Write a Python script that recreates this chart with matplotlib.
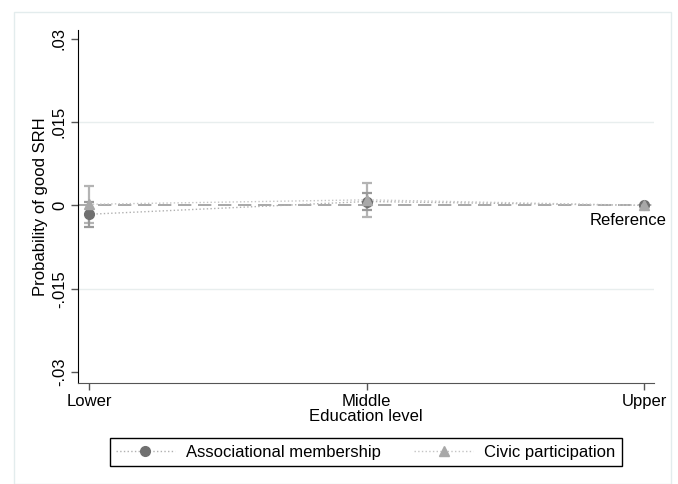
import matplotlib.pyplot as plt
from matplotlib.patches import Rectangle

plt.rcParams['font.family'] = ['Liberation Sans', 'DejaVu Sans']

levels = ['Lower', 'Middle', 'Upper']
assoc = [-0.0016, 0.0007, 0.0]
assoc_err = [0.0023, 0.0016, 0.0]
civic = [0.0002, 0.0010, 0.0]
civic_err = [0.0033, 0.0031, 0.0]
yticks = [-0.03, -0.015, 0, 0.015, 0.03]
yticklabels = ['-.03', '-.015', '0', '.015', '.03']

fig = plt.figure(figsize=(6.78, 4.84), dpi=100)
fig.patches.append(Rectangle((14 / 678, 0), 657 / 678, 1 - 12 / 484,
                             transform=fig.transFigure, fill=False,
                             edgecolor='#e3eced', lw=1))
ax = fig.add_axes([78 / 678, 1 - 383 / 484, 576 / 678, 353 / 484])

x = list(range(len(levels)))

for v in [-0.015, 0.015]:
    ax.axhline(v, color='#e8eeee', lw=1, zorder=0)
ax.axhline(0, color='#9a9a9a', lw=1.2, ls=(0, (8, 4)), zorder=1)

# error bars only where a CI exists (Upper is the reference)
ax.errorbar(x[:2], civic[:2], yerr=civic_err[:2], fmt='none', ecolor='#b4b4b4',
            elinewidth=1.6, capsize=3.5, capthick=1.6, zorder=2)
ax.errorbar(x[:2], assoc[:2], yerr=assoc_err[:2], fmt='none', ecolor='#9a9a9a',
            elinewidth=1.6, capsize=3.5, capthick=1.6, zorder=2)

ax.plot(x, assoc, color='#b0b0b0', ls=':', lw=1, marker='o', ms=7,
        mfc='#707070', mec='#707070', label='Associational membership', zorder=3)
ax.plot(x, civic, color='#c4c4c4', ls=':', lw=1, marker='^', ms=7,
        mfc='#a8a8a8', mec='#a8a8a8', label='Civic participation', zorder=3)

ax.text(2.08, -0.0013, 'Reference', ha='right', va='top', fontsize=12)

ax.set_xlim(-0.04, 2.036)
ax.set_ylim(-0.032, 0.0316)
ax.set_xticks(x)
ax.set_xticklabels(levels, fontsize=12)
ax.set_yticks(yticks)
ax.set_yticklabels(yticklabels, fontsize=12, rotation=90, va='center')
ax.set_xlabel('Education level', fontsize=12, labelpad=0)
ax.set_ylabel('Probability of good SRH', fontsize=12, labelpad=3)

for s in ['top', 'right']:
    ax.spines[s].set_visible(False)
ax.spines['left'].set_color('black')
ax.spines['bottom'].set_color('#555555')
ax.tick_params(axis='both', length=5, width=1, color='#555555', pad=3)

fig.legend(loc='center', bbox_to_anchor=(366 / 678, 1 - 452 / 484), ncol=2,
           fontsize=12, frameon=True, fancybox=False, edgecolor='black',
           framealpha=1, handlelength=3.5, handletextpad=0.7,
           columnspacing=2.0, borderpad=0.4)

fig.savefig('out.png', dpi=100)
